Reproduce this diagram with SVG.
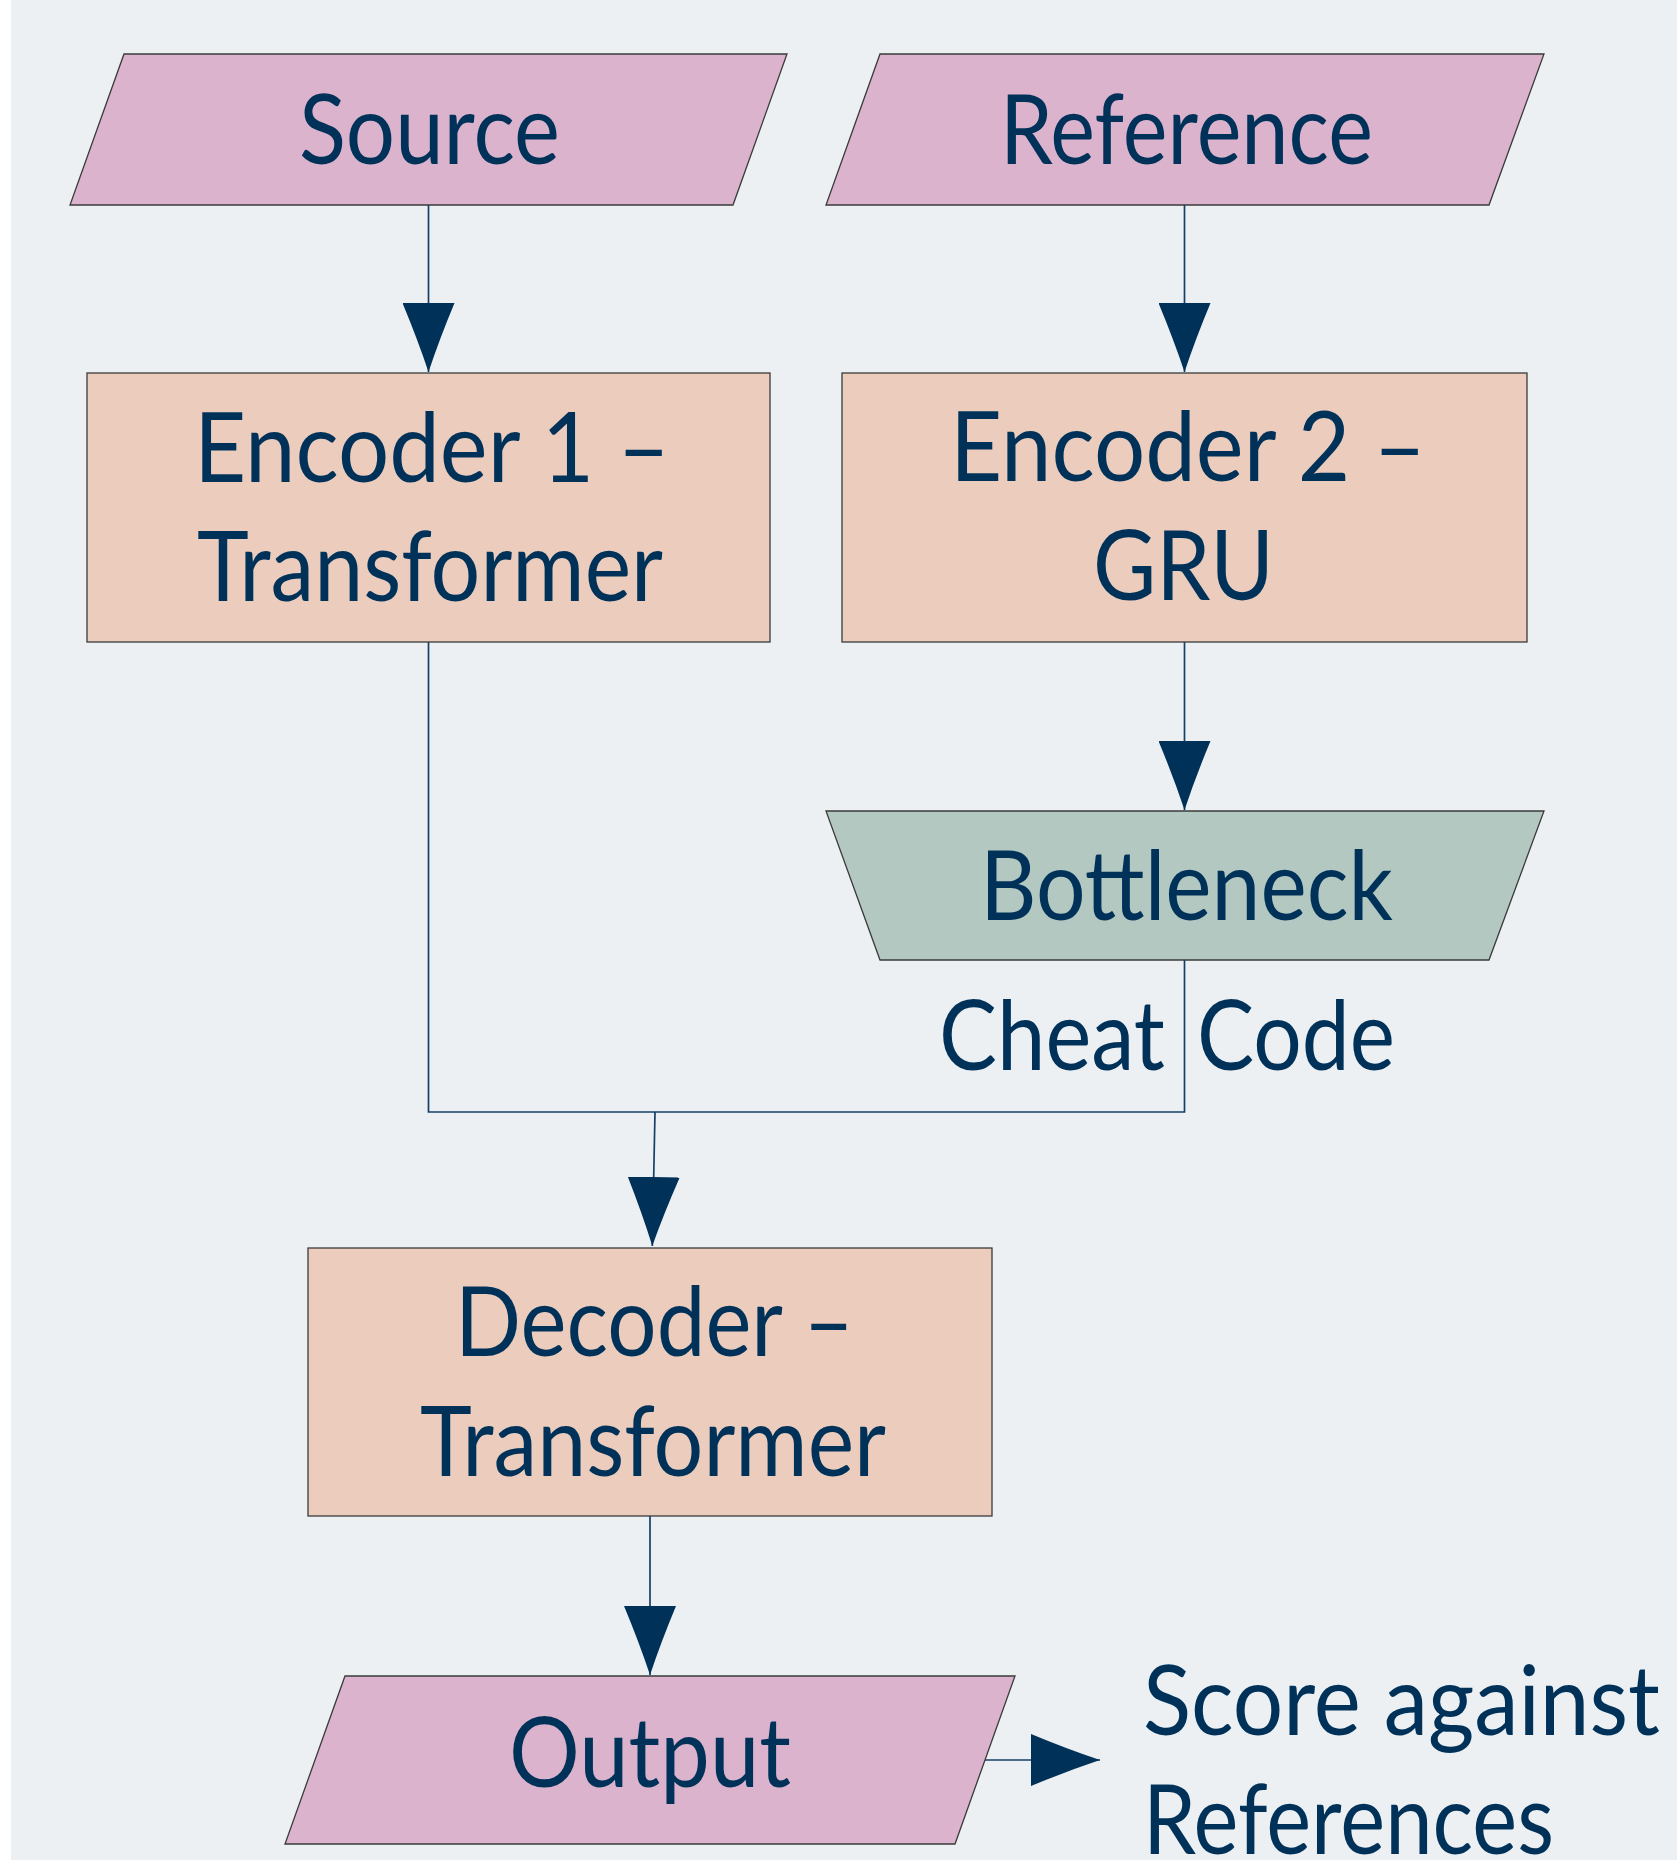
<svg xmlns="http://www.w3.org/2000/svg" width="1677" height="1860" viewBox="0 0 1677 1860">
<style>
.bg{fill:#ECF0F3}
.io{fill:#DBB3CD;stroke:#3a3a3a;stroke-width:1.3}
.proc{fill:#ECCDBD;stroke:#3a3a3a;stroke-width:1.3}
.bn{fill:#B3C8C1;stroke:#3a3a3a;stroke-width:1.3}
.t{font-family:Lato,"Liberation Sans",sans-serif;font-size:96px;fill:#003159}
.c{fill:none;stroke:#143F69;stroke-width:1.7}
.ah{fill:#003159}
</style>
<defs>
<marker id="arr" viewBox="0 0 69 52" markerWidth="69" markerHeight="52" refX="69" refY="26" orient="auto" markerUnits="userSpaceOnUse">
<path class="ah" d="M0,0 Q36,15 69,26 Q36,37 0,52 Z"/>
</marker>
</defs>
<rect class="bg" x="11" y="0" width="1666" height="1860"/>
<g id="connectors">
<line class="c" x1="428.5" y1="205" x2="428.5" y2="372" marker-end="url(#arr)"/>
<line class="c" x1="1184.5" y1="205" x2="1184.5" y2="372" marker-end="url(#arr)"/>
<line class="c" x1="1184.5" y1="642" x2="1184.5" y2="810" marker-end="url(#arr)"/>
<polyline class="c" points="428.5,642 428.5,1112 1184.5,1112 1184.5,960"/>
<line class="c" x1="655" y1="1112" x2="652.3" y2="1246" marker-end="url(#arr)"/>
<line class="c" x1="650" y1="1516" x2="650" y2="1675" marker-end="url(#arr)"/>
<line class="c" x1="985" y1="1760" x2="1100" y2="1760" marker-end="url(#arr)"/>
</g>
<g id="source">
<polygon class="io" points="124,54 787,54 733,205 70,205"/>
<text class="t" x="299" y="164" textLength="261" lengthAdjust="spacingAndGlyphs">Source</text>
</g>
<g id="reference">
<polygon class="io" points="880,54 1544,54 1489,205 826,205"/>
<text class="t" x="1000" y="164" textLength="373" lengthAdjust="spacingAndGlyphs">Reference</text>
</g>
<g id="encoder1">
<rect class="proc" x="87" y="373" width="683" height="269"/>
<text class="t" x="194" y="482" textLength="476" lengthAdjust="spacingAndGlyphs">Encoder 1 –</text>
<text class="t" x="197" y="601" textLength="466" lengthAdjust="spacingAndGlyphs">Transformer</text>
</g>
<g id="encoder2">
<rect class="proc" x="842" y="373" width="685" height="269"/>
<text class="t" x="950" y="481" textLength="476" lengthAdjust="spacingAndGlyphs">Encoder 2 –</text>
<text class="t" x="1093" y="600" textLength="181" lengthAdjust="spacingAndGlyphs">GRU</text>
</g>
<g id="bottleneck">
<polygon class="bn" points="826,811 1544,811 1489,960 880,960"/>
<text class="t" x="980" y="920" textLength="413" lengthAdjust="spacingAndGlyphs">Bottleneck</text>
</g>
<g id="cheatcode">
<text class="t" x="939" y="1070" textLength="226" lengthAdjust="spacingAndGlyphs">Cheat</text>
<text class="t" x="1197" y="1070" textLength="198" lengthAdjust="spacingAndGlyphs">Code</text>
</g>
<g id="decoder">
<rect class="proc" x="308" y="1248" width="684" height="268"/>
<text class="t" x="455" y="1356" textLength="399" lengthAdjust="spacingAndGlyphs">Decoder –</text>
<text class="t" x="420" y="1476" textLength="466" lengthAdjust="spacingAndGlyphs">Transformer</text>
</g>
<g id="output">
<polygon class="io" points="345,1676 1015,1676 955,1844 285,1844"/>
<text class="t" x="509" y="1787" textLength="282" lengthAdjust="spacingAndGlyphs">Output</text>
</g>
<g id="score">
<text class="t" x="1143" y="1735" textLength="517" lengthAdjust="spacingAndGlyphs">Score against</text>
<text class="t" x="1143" y="1854" textLength="411" lengthAdjust="spacingAndGlyphs">References</text>
</g>
</svg>
